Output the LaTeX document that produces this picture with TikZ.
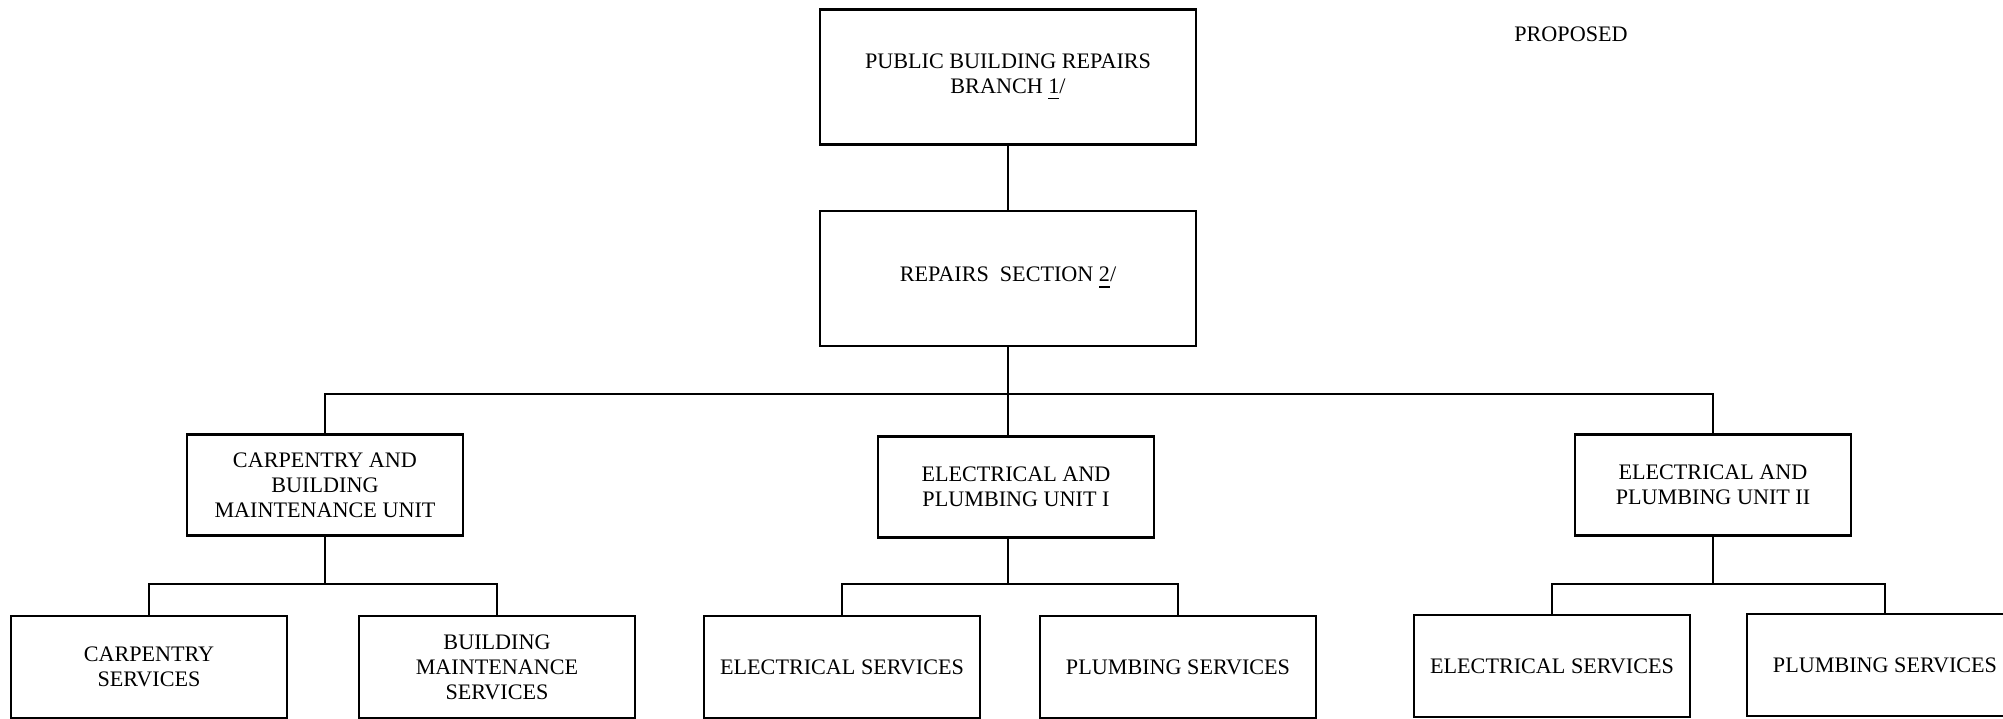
\documentclass[tikz,border=0pt]{standalone}
\usepackage{fontspec}
\setmainfont{Liberation Serif}
\usetikzlibrary{positioning,calc}
\tikzset{
  topbox/.style={rectangle, draw=black, line width=0.6pt, inner sep=0pt, outer sep=0pt,
                 minimum width=3.75cm, minimum height=1.35cm,
                 align=center, font=\fontsize{6.3}{7.1}\selectfont},
  unitbox/.style={rectangle, draw=black, line width=0.6pt, inner sep=0pt, outer sep=0pt,
                  minimum width=2.75cm, minimum height=1.01cm,
                  align=center, font=\fontsize{6.3}{7.1}\selectfont},
  servbox/.style={unitbox, minimum width=2.76cm, minimum height=1.02cm},
  link/.style={draw=black, line width=0.6pt}
}
\begin{document}
\begin{tikzpicture}[x=0.01cm, y=-0.01cm]
\useasboundingbox (0,0) rectangle (2003,719);
% top of the chart
\node[topbox] (branch) at (1008,77) {PUBLIC BUILDING REPAIRS\\BRANCH \underline{1}/};
\node[topbox, below=0.66cm of branch] (section) {REPAIRS\ \ SECTION \underline{2}/};
\node[font=\fontsize{6.3}{7.1}\selectfont] (status) at (1571,34) {PROPOSED};
% units
\node[unitbox] (cbm) at (325,485) {CARPENTRY AND\\BUILDING\\MAINTENANCE UNIT};
\node[unitbox] (ep1) at (1016,487) {ELECTRICAL AND\\PLUMBING UNIT I};
\node[unitbox] (ep2) at (1713,485) {ELECTRICAL AND\\PLUMBING UNIT II};
% services
\node[servbox] (carp) at (149,667) {CARPENTRY\\SERVICES};
\node[servbox] (bldg) at (497,667) {BUILDING\\MAINTENANCE\\SERVICES};
\node[servbox] (elec1) at (842,667) {ELECTRICAL SERVICES};
\node[servbox] (plumb1) at (1178,667) {PLUMBING SERVICES};
\node[servbox] (elec2) at (1552,666) {ELECTRICAL SERVICES};
\node[servbox] (plumb2) at (1885,665) {PLUMBING SERVICES};
% bus levels
\coordinate (bus) at (0,394);
\coordinate (sub) at (0,584);
% connectors
\draw[link] (branch) -- (section);
\draw[link] (section.south) -- (section.south |- ep1.north);
\draw[link] (cbm.north) -- (cbm.north |- bus) -- (ep2.north |- bus) -- (ep2.north);
\draw[link] (cbm.south) -- (cbm.south |- sub);
\draw[link] (carp.north) |- (cbm.south |- sub) -| (bldg.north);
\draw[link] (ep1.south -| section.south) -- (sub -| section.south);
\draw[link] (elec1.north) |- (sub -| section.south) -| (plumb1.north);
\draw[link] (ep2.south) -- (ep2.south |- sub);
\draw[link] (elec2.north) |- (ep2.south |- sub) -| (plumb2.north);
\end{tikzpicture}
\end{document}
